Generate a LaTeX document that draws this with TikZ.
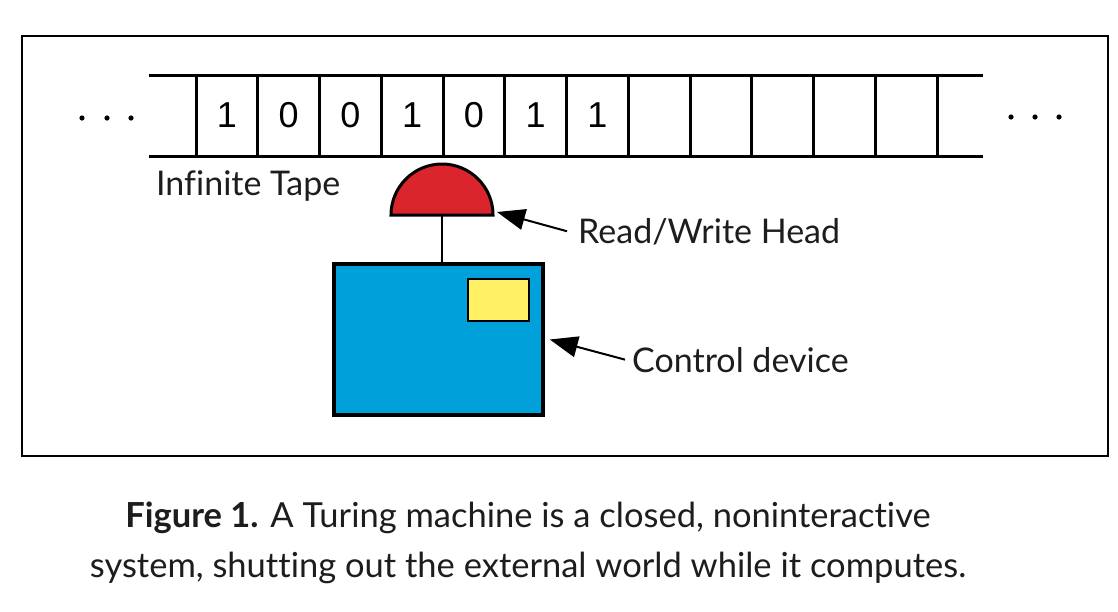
\documentclass[tikz,border=0pt]{standalone}
\usepackage{fontspec}
\setmainfont[Ligatures={NoCommon}]{Lato}
\newfontfamily\tapefont{Liberation Sans}
\usetikzlibrary{arrows.meta,positioning}

\definecolor{headred}{RGB}{218,37,44}
\definecolor{ctrlblue}{RGB}{0,160,218}
\definecolor{lampyellow}{RGB}{255,240,100}
\definecolor{inkblack}{RGB}{30,28,28}

\begin{document}
\begin{tikzpicture}[
    x=1pt, y=-1pt,
    cell/.style={rectangle, draw, line width=3pt, minimum width=61.75pt, minimum height=81pt, inner sep=0pt, outer sep=0pt, font=\tapefont\fontsize{36}{40}\selectfont},
    tapeline/.style={line width=3pt},
    note/.style={anchor=base west, inner sep=0pt, text=inkblack, font=\fontsize{34}{40}\selectfont},
    capt/.style={anchor=base, inner sep=0pt, text=inkblack, font=\fontsize{34.5}{40}\selectfont},
    ctrlbox/.style={rectangle, draw, line width=3.5pt, fill=ctrlblue, minimum width=209pt, minimum height=151pt, inner sep=0pt},
    lamp/.style={rectangle, draw, line width=2pt, fill=lampyellow, minimum width=61pt, minimum height=42pt, inner sep=0pt},
    arrow/.style={-{Triangle[length=28pt, width=21pt]}, line width=2pt}
]
\useasboundingbox (0,0) rectangle (1118,611);

% Outer frame
\draw[line width=1.6pt] (22,36) rectangle (1108,456);

% Tape cells
\node[cell] (c1) at (226.875,115.5) {1};
\node[cell, right=0pt of c1] (c2) {0};
\node[cell, right=0pt of c2] (c3) {0};
\node[cell, right=0pt of c3] (c4) {1};
\node[cell, right=0pt of c4] (c5) {0};
\node[cell, right=0pt of c5] (c6) {1};
\node[cell, right=0pt of c6] (c7) {1};
\node[cell, right=0pt of c7] (c8) {};
\node[cell, right=0pt of c8] (c9) {};
\node[cell, right=0pt of c9] (c10) {};
\node[cell, right=0pt of c10] (c11) {};
\node[cell, right=0pt of c11] (c12) {};

\draw[tapeline] ([xshift=-47pt]c1.north west) -- ([xshift=46pt]c12.north east);
\draw[tapeline] ([xshift=-47pt]c1.south west) -- ([xshift=46pt]c12.south east);

% Dots on both ends
\fill (82,118) circle (2.6pt);
\fill (107,118) circle (2.6pt);
\fill (131,118) circle (2.6pt);
\fill (1011,117) circle (2.6pt);
\fill (1035,117) circle (2.6pt);
\fill (1059,117) circle (2.6pt);

\node[note] (tapetext) at (156,195) {Infinite Tape};

% Read/write head
\coordinate (headbase) at (442,215);
\coordinate (headtip) at (497,212);
\draw[line width=3pt, fill=headred] ([xshift=-51pt]headbase) arc[start angle=180, end angle=0, radius=51pt] -- cycle;

% Control device
\node[ctrlbox] (ctrl) at (438.5,339.5) {};
\node[lamp] (lamp) at (498.5,300) {};
\draw[line width=1.5pt] (headbase) -- (headbase |- ctrl.north);

% Labels and arrows
\node[note] (rwtext) at (578,243) {Read/Write Head};
\node[note] (ctrltext) at (632,372) {Control device};

\draw[arrow] ([xshift=-11pt]rwtext.west) -- (headtip);
\draw[arrow] ([xshift=-7pt]ctrltext.west) -- ([xshift=5pt]ctrl.east);

% Caption
\node[capt] (cap1) at (528,527) {\textbf{Figure 1.} A Turing machine is a closed, noninteractive};
\node[capt] (cap2) at (528,577) {system, shutting out the external world while it computes.};

\end{tikzpicture}
\end{document}
